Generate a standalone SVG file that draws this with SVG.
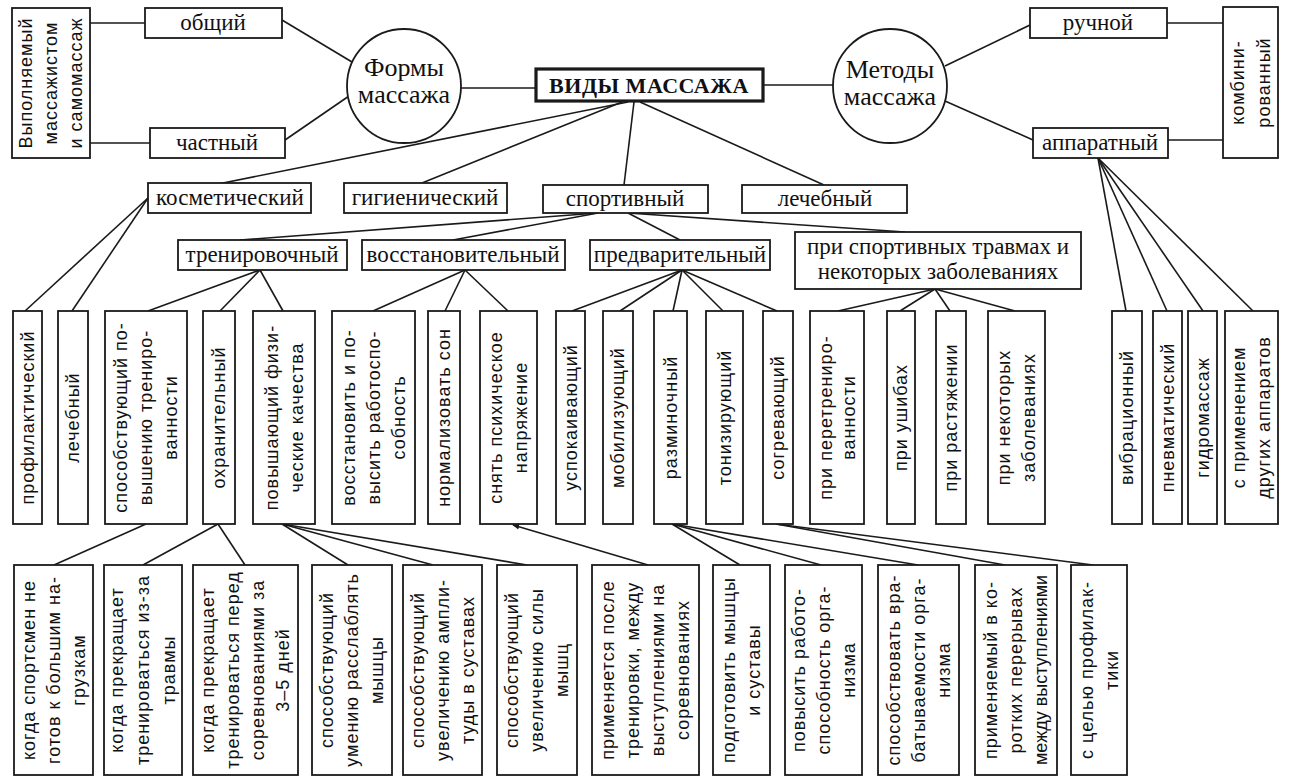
<svg xmlns="http://www.w3.org/2000/svg" width="1289" height="778" viewBox="0 0 1289 778">
<style>
.b{fill:#fff;stroke:#1a1a1a;stroke-width:1.8}
.bt{fill:#fff;stroke:#1a1a1a;stroke-width:3.2}
.c{fill:#fff;stroke:#1a1a1a;stroke-width:1.8}
.s{font-family:"Liberation Serif","Times New Roman",serif;font-size:23px;fill:#111;text-anchor:middle}
.cs{font-family:"Liberation Serif","Times New Roman",serif;font-size:26px;fill:#111;text-anchor:middle}
.h{font-family:"Liberation Serif","Times New Roman",serif;font-size:22px;font-weight:bold;fill:#111;text-anchor:middle;letter-spacing:0.5px}
.v{font-family:"Liberation Sans",Arial,sans-serif;font-size:18px;fill:#111;text-anchor:middle;letter-spacing:1px}
#connectors line{stroke:#1a1a1a;stroke-width:1.6}
</style>
<defs>
<marker id="ah" viewBox="0 0 10 10" refX="9" refY="5" markerWidth="7" markerHeight="7" orient="auto" markerUnits="userSpaceOnUse">
<path d="M0,1 L10,5 L0,9 z" fill="#1a1a1a"/>
</marker>
</defs>
<rect x="0" y="0" width="1289" height="778" fill="#fff"/>

<g id="connectors">
<line x1="90" y1="23" x2="145" y2="23"/>
<line x1="90" y1="143" x2="150" y2="143"/>
<line x1="282" y1="20" x2="352" y2="62"/>
<line x1="285" y1="140" x2="349" y2="96"/>
<line x1="461" y1="88" x2="535" y2="88"/>
<line x1="763" y1="85" x2="833" y2="85"/>
<line x1="945" y1="66" x2="1030" y2="25"/>
<line x1="945" y1="101" x2="1033" y2="140"/>
<line x1="1167" y1="23" x2="1223" y2="23"/>
<line x1="1168" y1="140" x2="1223" y2="140"/>
<line x1="628" y1="102" x2="218" y2="184"/>
<line x1="622" y1="102" x2="422" y2="183"/>
<line x1="634" y1="102" x2="624" y2="185"/>
<line x1="640" y1="102" x2="824" y2="185"/>
<line x1="598" y1="213" x2="240" y2="240"/>
<line x1="598" y1="213" x2="453" y2="240"/>
<line x1="628" y1="213" x2="680" y2="240"/>
<line x1="628" y1="213" x2="905" y2="232"/>
<line x1="148" y1="198" x2="25" y2="311"/>
<line x1="148" y1="198" x2="72" y2="311"/>
<line x1="260" y1="270" x2="148" y2="311"/>
<line x1="260" y1="270" x2="220" y2="311"/>
<line x1="260" y1="270" x2="283" y2="311"/>
<line x1="465" y1="270" x2="373" y2="311"/>
<line x1="465" y1="270" x2="445" y2="311"/>
<line x1="465" y1="270" x2="508" y2="311"/>
<line x1="682" y1="270" x2="572" y2="311"/>
<line x1="682" y1="270" x2="620" y2="311"/>
<line x1="682" y1="270" x2="673" y2="311"/>
<line x1="682" y1="270" x2="723" y2="311"/>
<line x1="682" y1="270" x2="777" y2="311"/>
<line x1="935" y1="289" x2="838" y2="311"/>
<line x1="935" y1="289" x2="900" y2="311"/>
<line x1="935" y1="289" x2="950" y2="311"/>
<line x1="935" y1="289" x2="1015" y2="311"/>
<line x1="1098" y1="158" x2="1126" y2="311"/>
<line x1="1098" y1="158" x2="1167" y2="311"/>
<line x1="1098" y1="158" x2="1203" y2="311"/>
<line x1="1098" y1="158" x2="1253" y2="311"/>
<line x1="146" y1="524" x2="54" y2="565"/>
<line x1="218" y1="524" x2="143" y2="565"/>
<line x1="218" y1="524" x2="245" y2="565"/>
<line x1="282" y1="524" x2="348" y2="565"/>
<line x1="282" y1="524" x2="433" y2="565"/>
<line x1="282" y1="524" x2="527" y2="565"/>
<line x1="648" y1="565" x2="513" y2="525" marker-end="url(#ah)"/>
<line x1="672" y1="524" x2="740" y2="565"/>
<line x1="672" y1="524" x2="821" y2="565"/>
<line x1="672" y1="524" x2="918" y2="565"/>
<line x1="776" y1="524" x2="1005" y2="565"/>
<line x1="776" y1="524" x2="1093" y2="565"/>
</g>

<g id="n-vypolnyaemyi"><rect class="b" x="12" y="8" width="78" height="150"/>
<text class="v" transform="translate(51,83) rotate(-90)"><tspan x="0" y="-19">Выполняемый</tspan><tspan x="0" y="6">массажистом</tspan><tspan x="0" y="31">и самомассаж</tspan></text></g>
<g id="n-obshchii"><rect class="b" x="145" y="8" width="137" height="30"/><text class="s" x="213" y="30">общий</text></g>
<g id="n-chastnyi"><rect class="b" x="150" y="128" width="135" height="30"/><text class="s" x="217" y="150">частный</text></g>
<g id="n-formy"><circle class="c" cx="404" cy="86" r="57"/><text class="cs" x="404" y="76">Формы</text><text class="cs" x="404" y="103">массажа</text></g>
<g id="n-vidy"><rect class="bt" x="536" y="69" width="227" height="32"/><text class="h" x="649" y="93">ВИДЫ МАССАЖА</text></g>
<g id="n-metody"><circle class="c" cx="890" cy="86" r="57"/><text class="cs" x="890" y="78">Методы</text><text class="cs" x="890" y="105">массажа</text></g>
<g id="n-ruchnoi"><rect class="b" x="1030" y="8" width="137" height="30"/><text class="s" x="1098" y="30">ручной</text></g>
<g id="n-apparatnyi"><rect class="b" x="1033" y="128" width="135" height="30"/><text class="s" x="1100" y="150">аппаратный</text></g>
<g id="n-kombi"><rect class="b" x="1223" y="7" width="55" height="151"/>
<text class="v" transform="translate(1250.5,82.5) rotate(-90)"><tspan x="0" y="-7">комбини-</tspan><tspan x="0" y="19">рованный</tspan></text></g>

<g id="n-kosmet"><rect class="b" x="148" y="183" width="163" height="30"/><text class="s" x="230" y="205">косметический</text></g>
<g id="n-gigien"><rect class="b" x="344" y="183" width="163" height="30"/><text class="s" x="425" y="205">гигиенический</text></g>
<g id="n-sport"><rect class="b" x="543" y="185" width="165" height="28"/><text class="s" x="625" y="206">спортивный</text></g>
<g id="n-lech"><rect class="b" x="742" y="185" width="165" height="28"/><text class="s" x="825" y="206">лечебный</text></g>

<g id="n-trenir"><rect class="b" x="178" y="240" width="169" height="30"/><text class="s" x="262" y="262">тренировочный</text></g>
<g id="n-vosst"><rect class="b" x="362" y="240" width="203" height="30"/><text class="s" x="463" y="262">восстановительный</text></g>
<g id="n-predv"><rect class="b" x="590" y="240" width="180" height="30"/><text class="s" x="680" y="262">предварительный</text></g>
<g id="n-travmy"><rect class="b" x="795" y="232" width="286" height="57"/><text class="s" x="938" y="254">при спортивных травмах и</text><text class="s" x="938" y="279">некоторых заболеваниях</text></g>

<g id="r4-1"><rect class="b" x="13" y="311" width="29" height="213"/><text class="v" transform="translate(27.5,417.5) rotate(-90)"><tspan x="0" y="6">профилактический</tspan></text></g>
<g id="r4-2"><rect class="b" x="58" y="311" width="30" height="213"/><text class="v" transform="translate(73,417.5) rotate(-90)"><tspan x="0" y="6">лечебный</tspan></text></g>
<g id="r4-3"><rect class="b" x="105" y="311" width="82" height="213"/><text class="v" transform="translate(146,417.5) rotate(-90)"><tspan x="0" y="-19">способствующий по-</tspan><tspan x="0" y="6">вышению трениро-</tspan><tspan x="0" y="31">ванности</tspan></text></g>
<g id="r4-4"><rect class="b" x="203" y="311" width="32" height="213"/><text class="v" transform="translate(219,417.5) rotate(-90)"><tspan x="0" y="6">охранительный</tspan></text></g>
<g id="r4-5"><rect class="b" x="253" y="311" width="62" height="213"/><text class="v" transform="translate(284,417.5) rotate(-90)"><tspan x="0" y="-6.5">повышающий физи-</tspan><tspan x="0" y="18.5">ческие качества</tspan></text></g>
<g id="r4-6"><rect class="b" x="332" y="311" width="83" height="213"/><text class="v" transform="translate(373.5,417.5) rotate(-90)"><tspan x="0" y="-19">восстановить и по-</tspan><tspan x="0" y="6">высить работоспо-</tspan><tspan x="0" y="31">собность</tspan></text></g>
<g id="r4-7"><rect class="b" x="428" y="311" width="32" height="213"/><text class="v" transform="translate(444,417.5) rotate(-90)"><tspan x="0" y="6">нормализовать сон</tspan></text></g>
<g id="r4-8"><rect class="b" x="480" y="311" width="57" height="213"/><text class="v" transform="translate(508.5,417.5) rotate(-90)"><tspan x="0" y="-6.5">снять психическое</tspan><tspan x="0" y="18.5">напряжение</tspan></text></g>
<g id="r4-9"><rect class="b" x="556" y="311" width="29" height="213"/><text class="v" transform="translate(570.5,417.5) rotate(-90)"><tspan x="0" y="6">успокаивающий</tspan></text></g>
<g id="r4-10"><rect class="b" x="603" y="311" width="30" height="213"/><text class="v" transform="translate(618,417.5) rotate(-90)"><tspan x="0" y="6">мобилизующий</tspan></text></g>
<g id="r4-11"><rect class="b" x="654" y="311" width="33" height="213"/><text class="v" transform="translate(670.5,417.5) rotate(-90)"><tspan x="0" y="6">разминочный</tspan></text></g>
<g id="r4-12"><rect class="b" x="706" y="311" width="37" height="213"/><text class="v" transform="translate(724.5,417.5) rotate(-90)"><tspan x="0" y="6">тонизирующий</tspan></text></g>
<g id="r4-13"><rect class="b" x="763" y="311" width="30" height="213"/><text class="v" transform="translate(778,417.5) rotate(-90)"><tspan x="0" y="6">согревающий</tspan></text></g>
<g id="r4-14"><rect class="b" x="810" y="311" width="54" height="213"/><text class="v" transform="translate(837,417.5) rotate(-90)"><tspan x="0" y="-5">при перетрениро-</tspan><tspan x="0" y="18">ванности</tspan></text></g>
<g id="r4-15"><rect class="b" x="887" y="311" width="28" height="213"/><text class="v" transform="translate(901,417.5) rotate(-90)"><tspan x="0" y="6">при ушибах</tspan></text></g>
<g id="r4-16"><rect class="b" x="936" y="311" width="30" height="213"/><text class="v" transform="translate(951,417.5) rotate(-90)"><tspan x="0" y="6">при растяжении</tspan></text></g>
<g id="r4-17"><rect class="b" x="988" y="311" width="57" height="213"/><text class="v" transform="translate(1016.5,417.5) rotate(-90)"><tspan x="0" y="-6.5">при некоторых</tspan><tspan x="0" y="18.5">заболеваниях</tspan></text></g>
<g id="r4-18"><rect class="b" x="1112" y="311" width="30" height="213"/><text class="v" transform="translate(1127,417.5) rotate(-90)"><tspan x="0" y="6">вибрационный</tspan></text></g>
<g id="r4-19"><rect class="b" x="1153" y="311" width="29" height="213"/><text class="v" transform="translate(1167.5,417.5) rotate(-90)"><tspan x="0" y="6">пневматический</tspan></text></g>
<g id="r4-20"><rect class="b" x="1188" y="311" width="29" height="213"/><text class="v" transform="translate(1202.5,417.5) rotate(-90)"><tspan x="0" y="6">гидромассаж</tspan></text></g>
<g id="r4-21"><rect class="b" x="1225" y="311" width="53" height="213"/><text class="v" transform="translate(1251.5,417.5) rotate(-90)"><tspan x="0" y="-6.5">с применением</tspan><tspan x="0" y="18.5">других аппаратов</tspan></text></g>

<g id="r5-1"><rect class="b" x="14" y="565" width="79" height="210"/><text class="v" transform="translate(53.5,670) rotate(-90)"><tspan x="0" y="-19">когда спортсмен не</tspan><tspan x="0" y="6">готов к большим на-</tspan><tspan x="0" y="31">грузкам</tspan></text></g>
<g id="r5-2"><rect class="b" x="104" y="565" width="78" height="210"/><text class="v" transform="translate(143,670) rotate(-90)"><tspan x="0" y="-20">когда прекращает</tspan><tspan x="0" y="6">тренироваться из-за</tspan><tspan x="0" y="32">травмы</tspan></text></g>
<g id="r5-3"><rect class="b" x="193" y="565" width="105" height="210"/><text class="v" transform="translate(245.5,670) rotate(-90)"><tspan x="0" y="-31.5">когда прекращает</tspan><tspan x="0" y="-6.5">тренироваться перед</tspan><tspan x="0" y="18.5">соревнованиями за</tspan><tspan x="0" y="43.5">3–5 дней</tspan></text></g>
<g id="r5-4"><rect class="b" x="312" y="565" width="80" height="210"/><text class="v" transform="translate(352,670) rotate(-90)"><tspan x="0" y="-19">способствующий</tspan><tspan x="0" y="6">умению расслаблять</tspan><tspan x="0" y="31">мышцы</tspan></text></g>
<g id="r5-5"><rect class="b" x="403" y="565" width="79" height="210"/><text class="v" transform="translate(442.5,670) rotate(-90)"><tspan x="0" y="-19">способствующий</tspan><tspan x="0" y="6">увеличению ампли-</tspan><tspan x="0" y="31">туды в суставах</tspan></text></g>
<g id="r5-6"><rect class="b" x="497" y="565" width="80" height="210"/><text class="v" transform="translate(537,670) rotate(-90)"><tspan x="0" y="-19">способствующий</tspan><tspan x="0" y="6">увеличению силы</tspan><tspan x="0" y="31">мышц</tspan></text></g>
<g id="r5-7"><rect class="b" x="592" y="565" width="107" height="210"/><text class="v" transform="translate(645.5,670) rotate(-90)"><tspan x="0" y="-31.5">применяется после</tspan><tspan x="0" y="-6.5">тренировки, между</tspan><tspan x="0" y="18.5">выступлениями на</tspan><tspan x="0" y="43.5">соревнованиях</tspan></text></g>
<g id="r5-8"><rect class="b" x="713" y="565" width="57" height="210"/><text class="v" transform="translate(741.5,670) rotate(-90)"><tspan x="0" y="-6.5">подготовить мышцы</tspan><tspan x="0" y="18.5">и суставы</tspan></text></g>
<g id="r5-9"><rect class="b" x="785" y="565" width="77" height="210"/><text class="v" transform="translate(823.5,670) rotate(-90)"><tspan x="0" y="-19">повысить работо-</tspan><tspan x="0" y="6">способность орга-</tspan><tspan x="0" y="31">низма</tspan></text></g>
<g id="r5-10"><rect class="b" x="878" y="565" width="81" height="210"/><text class="v" transform="translate(918.5,670) rotate(-90)"><tspan x="0" y="-19">способствовать вра-</tspan><tspan x="0" y="6">батываемости орга-</tspan><tspan x="0" y="31">низма</tspan></text></g>
<g id="r5-11"><rect class="b" x="975" y="565" width="82" height="210"/><text class="v" transform="translate(1016,670) rotate(-90)"><tspan x="0" y="-19">применяемый в ко-</tspan><tspan x="0" y="6">ротких перерывах</tspan><tspan x="0" y="31" letter-spacing="0">между выступлениями</tspan></text></g>
<g id="r5-12"><rect class="b" x="1071" y="565" width="56" height="210"/><text class="v" transform="translate(1099,670) rotate(-90)"><tspan x="0" y="-6.5">с целью профилак-</tspan><tspan x="0" y="18.5">тики</tspan></text></g>
</svg>
